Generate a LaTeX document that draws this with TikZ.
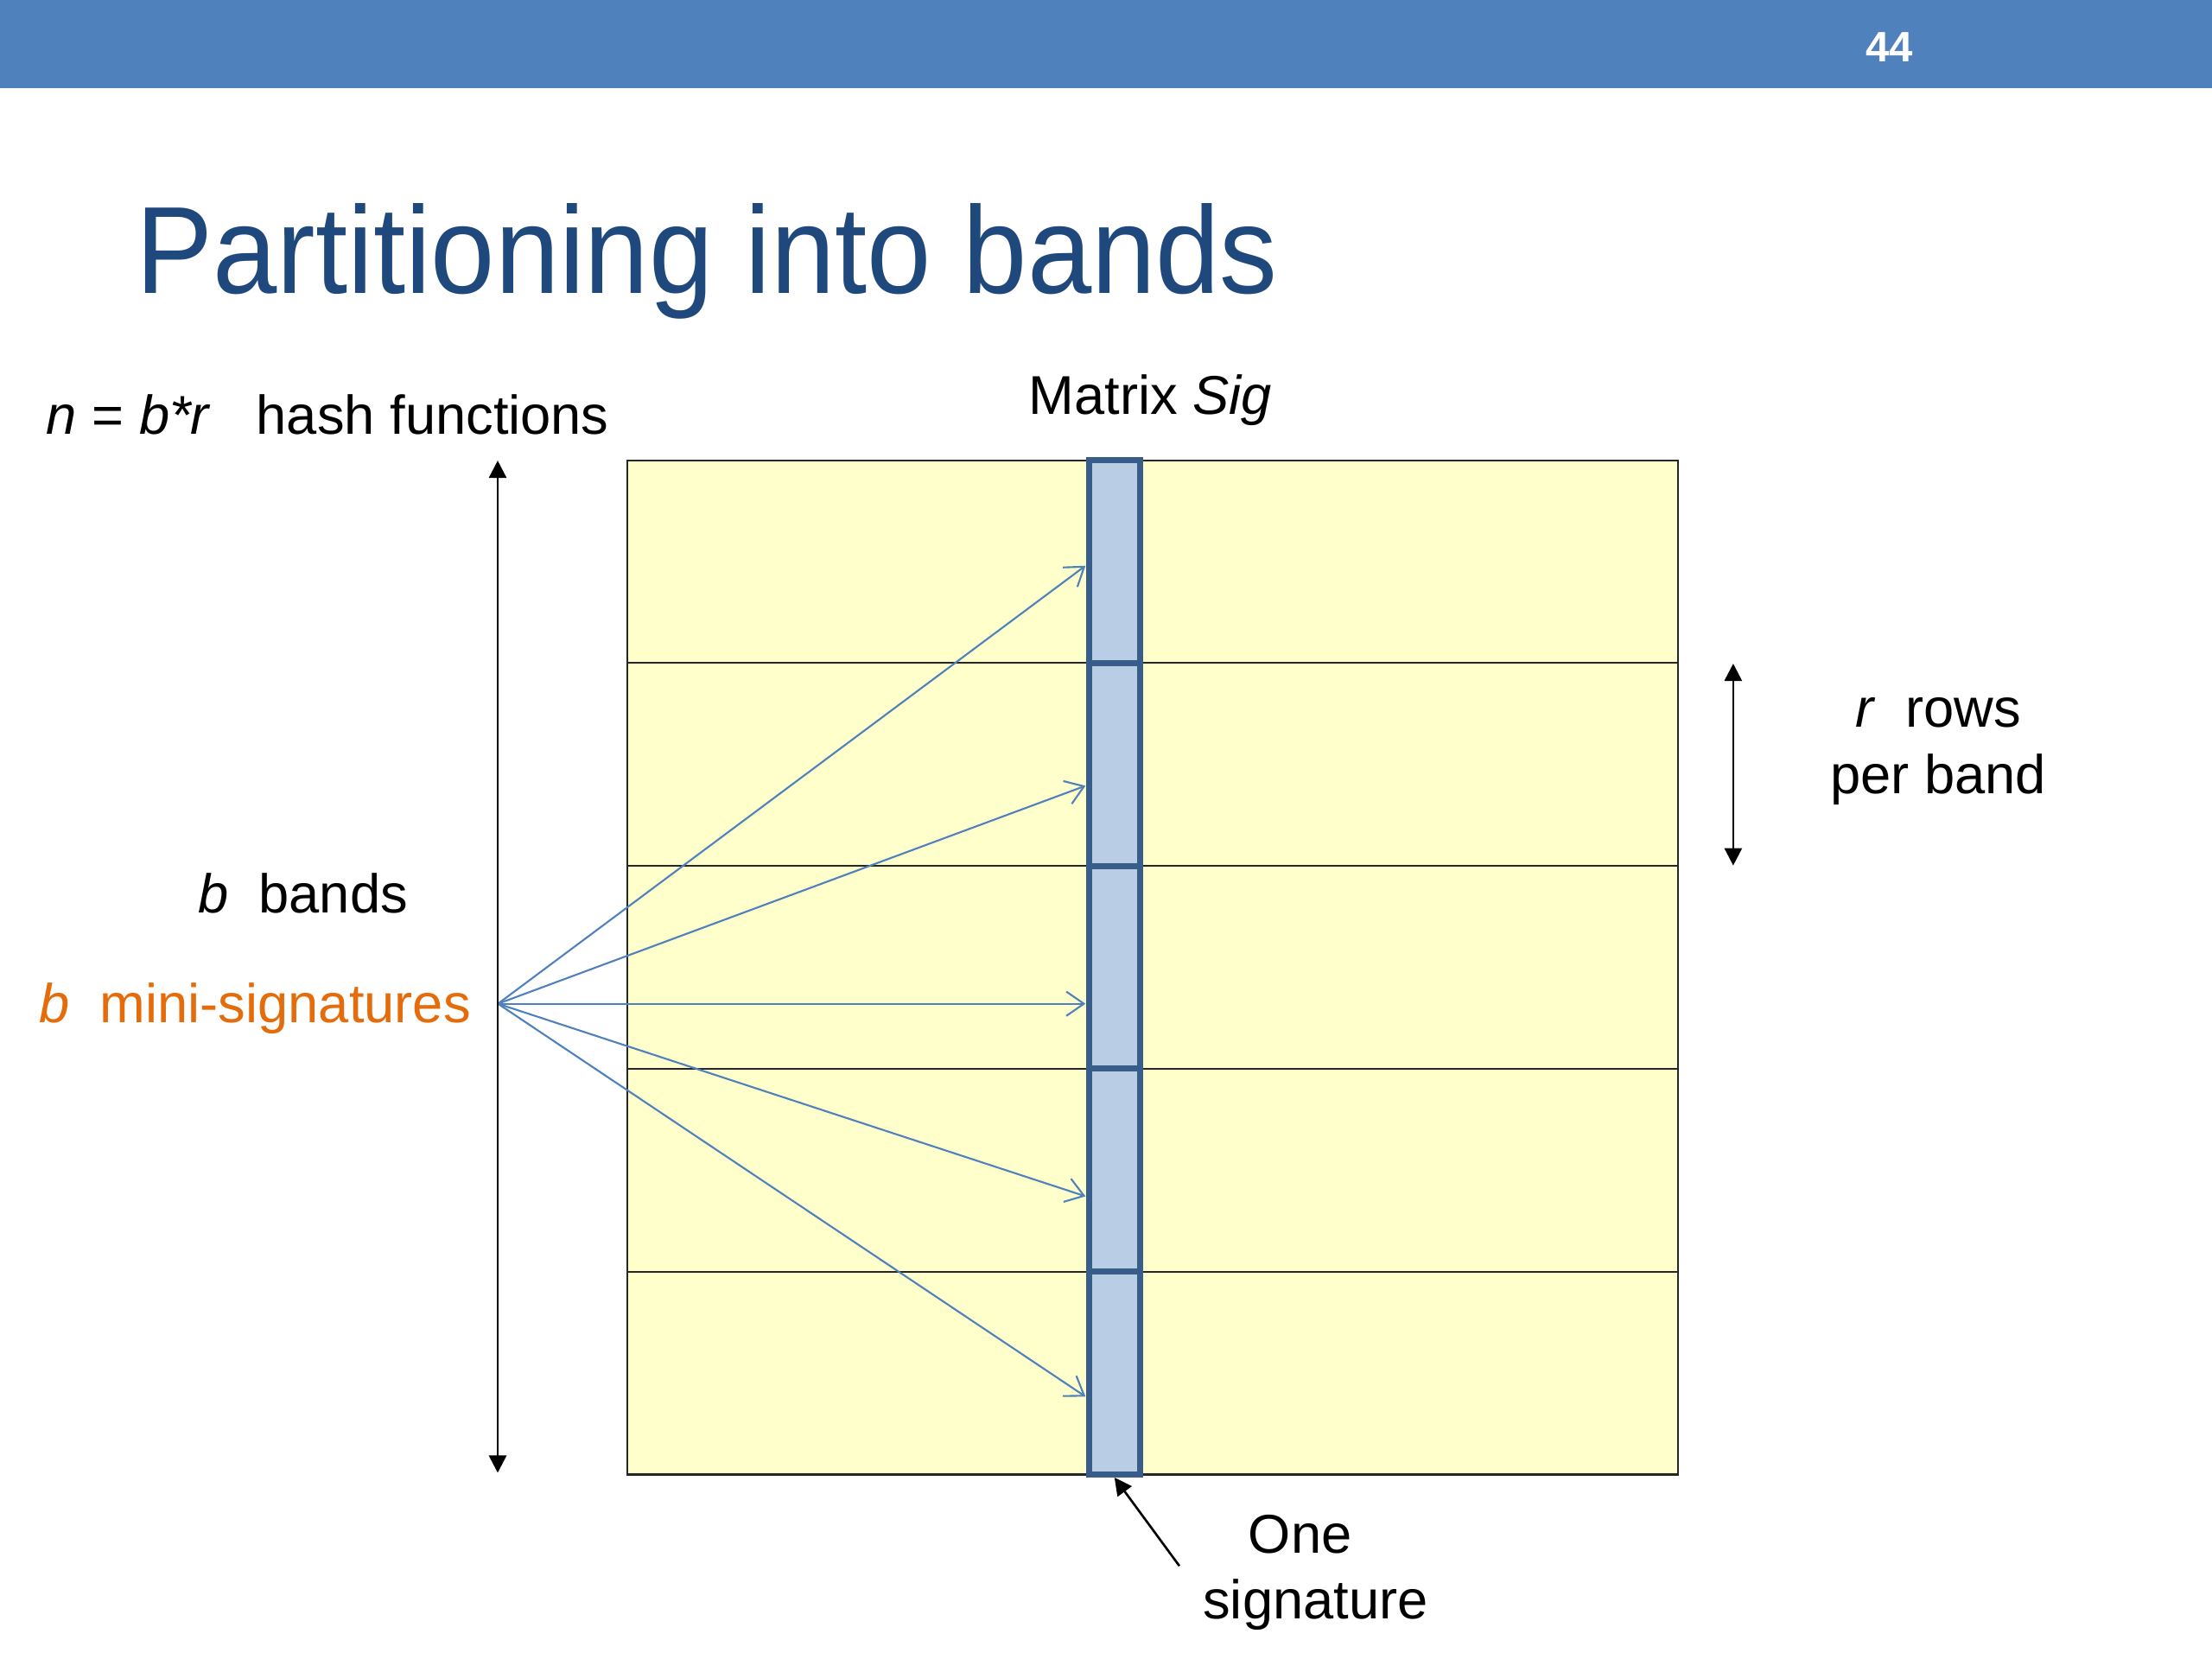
\documentclass[tikz,border=0pt]{standalone}
\usepackage{fontspec}
\setmainfont{Liberation Sans}
\usetikzlibrary{arrows.meta}
\definecolor{barblue}{HTML}{4F81BD}
\definecolor{titleblue}{HTML}{1F497D}
\definecolor{bandyellow}{HTML}{FFFFCC}
\definecolor{cellfill}{HTML}{B9CDE5}
\definecolor{celldraw}{HTML}{385D8A}
\definecolor{accentorange}{HTML}{E46C0A}
\begin{document}
\begin{tikzpicture}[x=0.0163265cm, y=-0.0163265cm,
  lbl/.style={inner sep=0pt, font=\fontsize{18}{21.7}\selectfont},
  bandbox/.style={draw=black!85, line width=0.6pt, fill=bandyellow,
    minimum width=12.160cm, minimum height=2.348cm, inner sep=0pt},
  cellbox/.style={draw=celldraw, line width=2pt, fill=cellfill,
    minimum width=0.5878cm, minimum height=2.348cm, inner sep=0pt},
  dimarrow/.style={draw=black, line width=0.75pt,
    {Triangle[length=5.7pt,width=5.7pt]}-{Triangle[length=5.7pt,width=5.7pt]}},
  ptrarrow/.style={draw=black, line width=0.75pt, -{Triangle[length=5.7pt,width=5.7pt]}},
  minarrow/.style={draw=barblue, line width=0.6pt, -{Straight Barb[length=5.8pt,width=8pt]}}
]
\useasboundingbox (0,0) rectangle (1568,1176);
\fill[white] (0,0) rectangle (1568,1176);
% top bar
\fill[barblue] (0,0) rectangle (1568,62.5);
\node[anchor=base, inner sep=0pt, text=white, font=\bfseries\fontsize{14}{16}\selectfont] (pagenum) at (1339.5,43.5) {44};
% title
\node[anchor=base west, inner sep=0pt, text=titleblue, font=\fontsize{38}{40}\selectfont] (title) at (96,208.2) {\scalebox{1}[1.075]{Partitioning into bands}};

% bands
\foreach \k/\yy in {1/398.1, 2/541.9, 3/685.7, 4/829.5, 5/973.3} {
  \node[bandbox] (b\k) at (816.9,\yy) {};
}
% coordinates for the dimension arrows and the fan source
\coordinate (ntop) at (352.8,326.5);
\coordinate (nbot) at (352.8,1044);
\coordinate (rtop) at (1228.6,470.4);
\coordinate (rbot) at (1228.6,613.5);
\coordinate (src) at (353,711.5);
\coordinate (sigtail) at (836,1110);

% mini-signature arrows
\foreach \k/\ty in {1/401, 2/557, 3/711.5, 4/848, 5/990} {
  \coordinate (t\k) at (769.5,\ty);
  \draw[minarrow] (src) -- (t\k);
}
% signature cells
\foreach \k/\yy in {1/398.1, 2/541.9, 3/685.7, 4/829.5, 5/973.3} {
  \node[cellbox] (s\k) at (790,\yy) {};
}

% dimension arrows
\draw[dimarrow] (ntop) -- (nbot);
\draw[dimarrow] (rtop) -- (rbot);
\draw[ptrarrow] (sigtail) -- (s5.south);

% labels
\node[lbl, anchor=base west] (hash) at (32.5,307.5) {\textit{n} = \textit{b*r}\ \ \ hash functions};
\node[lbl, anchor=base west] (matlbl) at (729,293.4) {Matrix \textit{Sig}};
\node[lbl, anchor=base east] (bands) at (289.5,647) {\textit{b}\ \ bands};
\node[lbl, anchor=base west, text=accentorange] (minisig) at (27.5,725) {\textit{b}\ \ mini-signatures};
\node[lbl, anchor=base] (rows) at (1374,515.6) {\begin{tabular}[t]{@{}c@{}}\textit{r}\ \ rows\\per band\end{tabular}};
\node[lbl, anchor=base] (onesig) at (932.5,1101) {\begin{tabular}[t]{@{}c@{}}One\hspace{0.56em}\mbox{}\\signature\end{tabular}};
\end{tikzpicture}
\end{document}
